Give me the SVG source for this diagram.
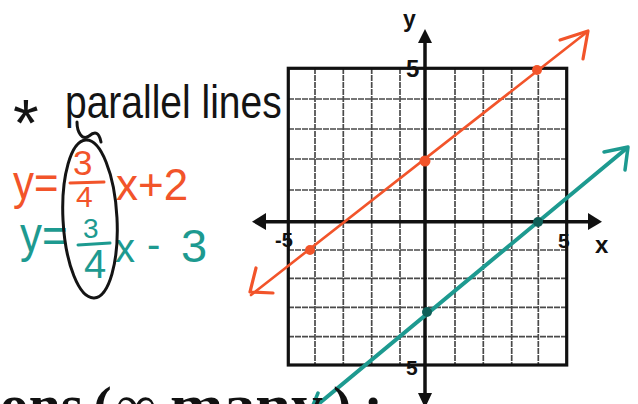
<svg xmlns="http://www.w3.org/2000/svg" width="638" height="404" viewBox="0 0 638 404">
<style>
.hand{font-family:"Liberation Sans","DejaVu Sans",sans-serif;}
.ink{fill:#141414;}
.org{fill:#f2542a;}
.tea{fill:#1d9a90;}
.lab{font-family:"Liberation Sans",Arial,sans-serif;font-weight:bold;fill:#111;}
.grid{stroke:#4a4a4a;stroke-width:1.7;stroke-dasharray:6 1;fill:none;}
.serif{font-family:"Liberation Serif","Times New Roman",serif;font-weight:bold;fill:#111;font-size:56px;}
</style>
<rect width="638" height="404" fill="#ffffff"/>

<g id="title">
<text class="hand ink" x="13" y="146" font-size="66">*</text>
<text class="hand ink" x="65" y="118" font-size="39" transform="translate(0 118) scale(1 1.2) translate(0 -118)">parallel lines</text>
</g>

<g id="eq-orange">
<text class="hand org" x="13" y="199" font-size="42" transform="translate(0 199) scale(1 1.15) translate(0 -199)">y=</text>
<text class="hand org" x="73" y="175" font-size="35">3</text>
<line x1="70" y1="183" x2="104" y2="182" stroke="#f2542a" stroke-width="3" stroke-linecap="round"/>
<text class="hand org" x="76" y="207" font-size="30">4</text>
<text class="hand org" x="116" y="200" font-size="44">x+2</text>
</g>

<g id="eq-teal">
<text class="hand tea" x="20" y="252" font-size="44" transform="translate(0 252) scale(1 1.15) translate(0 -252)">y=</text>
<text class="hand tea" x="83" y="238" font-size="28">3</text>
<line x1="78" y1="245" x2="110" y2="243" stroke="#1d9a90" stroke-width="3" stroke-linecap="round"/>
<text class="hand tea" x="84" y="278" font-size="40">4</text>
<text class="hand tea" x="115" y="262" font-size="40">x</text>
<text class="hand tea" x="147" y="258" font-size="40">-</text>
<text class="hand tea" x="181" y="262" font-size="47">3</text>
</g>

<g id="circle-mark" fill="none" stroke="#141414" stroke-width="3" stroke-linecap="round">
<ellipse cx="90" cy="219" rx="27" ry="79" transform="rotate(-3 90 219)"/>
<path d="M77 122 C 77 132, 82 141, 89 136 C 95 131, 99 132, 101 142"/>
</g>

<g id="grid">
<path class="grid" d="M315 68 V365 M343.3 68 V365 M371.7 68 V365 M400 68 V365 M455 68 V365 M483.3 68 V365 M511.7 68 V365 M538.3 68 V365"/>
<path class="grid" d="M288 99 H567 M288 129 H567 M288 159 H567 M288 190 H567 M288 250 H567 M288 278.3 H567 M288 307.3 H567 M288 336.7 H567"/>
<rect x="288.3" y="68.3" width="278.4" height="296.7" fill="none" stroke="#111" stroke-width="3.2"/>
</g>

<g id="axes" stroke="#111" fill="#111">
<line x1="425" y1="40" x2="425" y2="396" stroke-width="3.5"/>
<polygon points="425,29 418,43 432,43" stroke="none"/>
<polygon points="425,408 418,393 432,393" stroke="none"/>
<line x1="262" y1="221.7" x2="592" y2="221.7" stroke-width="3.5"/>
<polygon points="252,221.7 266,213 266,230" stroke="none"/>
<polygon points="602,221.7 588,213 588,230" stroke="none"/>
</g>

<g id="labels">
<text class="lab" x="403" y="27" font-size="23">y</text>
<text class="lab" x="406" y="77" font-size="24">5</text>
<text class="lab" x="275" y="247" font-size="20">-5</text>
<text class="lab" x="558" y="248" font-size="21">5</text>
<text class="lab" x="595" y="253" font-size="24">x</text>
<text class="lab" x="406" y="375" font-size="21">5</text>
</g>

<g id="connectors" fill="none" stroke-linecap="round" stroke-linejoin="round">
<g id="line-orange" stroke="#f2542a">
<line x1="251" y1="295" x2="587" y2="32" stroke-width="2.6"/>
<path d="M560 40 L588 31 L583 59" stroke-width="3.2"/>
<path d="M256 268 L250 292 L273 293" stroke-width="3.2"/>
<circle cx="310" cy="250" r="5" fill="#f2542a" stroke="none"/>
<circle cx="425" cy="161" r="5.5" fill="#f2542a" stroke="none"/>
<circle cx="537" cy="70" r="5" fill="#f2542a" stroke="none"/>
</g>
<g id="line-teal" stroke="#1d9a90">
<line x1="310" y1="411" x2="627" y2="148" stroke-width="4"/>
<path d="M604 152 L628 147 L625 170" stroke-width="3.5"/>
<path d="M318 393 L311 410 L330 406" stroke-width="3.5"/>
<circle cx="427" cy="312" r="5" fill="#0f5f58" stroke="none"/>
<circle cx="538" cy="222" r="5" fill="#0f5f58" stroke="none"/>
</g>
</g>

<g id="footer">
<text class="serif" x="0" y="424" textLength="83" lengthAdjust="spacingAndGlyphs">ons</text>
<text class="serif" x="93" y="426" font-size="72">(</text>
<text class="serif" x="116" y="424">∞</text>
<text class="serif" x="170" y="424" textLength="153" lengthAdjust="spacingAndGlyphs">many</text>
<text class="serif" x="333" y="426" font-size="72">)</text>
<text class="serif" x="364" y="424">:</text>
</g>
</svg>
